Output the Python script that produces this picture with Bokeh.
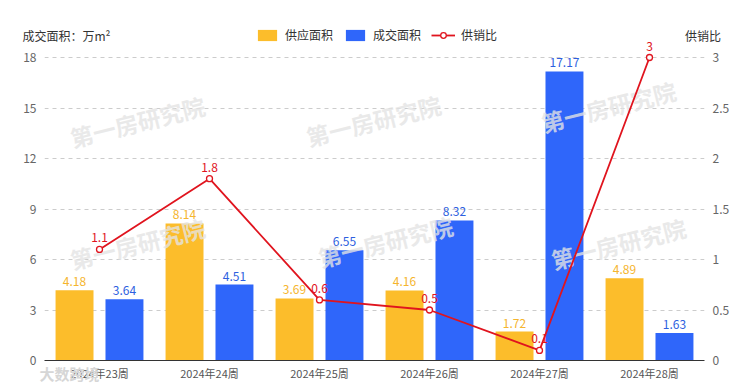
from bokeh.plotting import figure
from bokeh.models import (Range1d, LinearAxis, FixedTicker, NumeralTickFormatter,
                          ColumnDataSource, Legend, LegendItem, Label)
from bokeh.transform import dodge
from bokeh.core.properties import value
from bokeh.embed import file_html
from bokeh.resources import INLINE

weeks = ["2024年23周", "2024年24周", "2024年25周", "2024年26周", "2024年27周", "2024年28周"]
supply = [4.18, 8.14, 3.69, 4.16, 1.72, 4.89]
deal = [3.64, 4.51, 6.55, 8.32, 17.17, 1.63]
ratio = [1.1, 1.8, 0.6, 0.5, 0.1, 3]
left_ticks = [0, 3, 6, 9, 12, 15, 18]
right_ticks = [0, 0.5, 1, 1.5, 2, 2.5, 3]
left_title = "成交面积：万m²"
right_title = "供销比"
source_mark = "大数跨境"
watermark = "第一房研究院"

FONT = "Noto Sans CJK SC"
YEL = "#FCBD2B"
BLUE = "#2F66FA"
RED = "#E0141E"

# category slots: the i-th week sits in the middle of slot i
slot = [i + 0.5 for i in range(len(weeks))]
src = ColumnDataSource(dict(
    slot=slot, supply=supply, deal=deal, ratio=ratio,
    supply_t=[f"{v:g}" for v in supply],
    deal_t=[f"{v:g}" for v in deal],
    ratio_t=[f"{v:g}" for v in ratio],
))

# frame: 660 x 335 px; the 0..18 scale occupies the lower 303 px
FH, SCALE_H = 335, 303
p = figure(x_range=Range1d(0, len(weeks)),
           y_range=Range1d(0, 18 * FH / SCALE_H), frame_width=660, frame_height=FH,
           output_backend="svg", toolbar_location=None, x_axis_type=None,
           min_border_left=44, min_border_right=50, min_border_top=25, min_border_bottom=31)
p.outline_line_color = None
p.extra_y_ranges = {"r": Range1d(0, 3 * FH / SCALE_H)}
p.extra_x_ranges = {"px": Range1d(0, 660)}

def style_axis(ax, color="#666666", size="12px"):
    ax.axis_line_color = None
    ax.major_tick_line_color = None
    ax.minor_tick_line_color = None
    ax.major_tick_out = 0
    ax.major_tick_in = 0
    ax.major_label_text_color = color
    ax.major_label_text_font = FONT
    ax.major_label_text_font_size = size

p.yaxis.ticker = FixedTicker(ticks=left_ticks)
style_axis(p.yaxis[0])
p.yaxis.major_label_standoff = 8

ra = LinearAxis(y_range_name="r", ticker=FixedTicker(ticks=right_ticks),
                formatter=NumeralTickFormatter(format="0.[0]"))
style_axis(ra)
ra.major_label_standoff = 8
p.add_layout(ra, "right")

xa = LinearAxis(ticker=FixedTicker(ticks=slot),
                major_label_overrides={s: w for s, w in zip(slot, weeks)})
style_axis(xa, color="#555555", size="11px")
xa.axis_line_color = "#333333"
xa.axis_line_width = 1
xa.major_label_standoff = 4
p.add_layout(xa, "below")

# source watermark (bottom-left)
sa = LinearAxis(x_range_name="px", ticker=FixedTicker(ticks=[25]),
                major_label_overrides={25: source_mark})
style_axis(sa, color="#d6d6d6", size="15px")
sa.major_label_text_font_style = "bold"
sa.major_label_standoff = -21
p.add_layout(sa, "below")

# axis titles row (top), placed by an auxiliary pixel-range axis
ta = LinearAxis(x_range_name="px", ticker=FixedTicker(ticks=[22, 658.5]),
                major_label_overrides={22: left_title, 658.5: right_title})
style_axis(ta, color="#333333")
ta.major_label_standoff = -18
p.add_layout(ta, "above")

p.xgrid.grid_line_color = None
p.ygrid.grid_line_color = "#cccccc"
p.ygrid.grid_line_dash = "4 4"
p.ygrid.ticker = FixedTicker(ticks=left_ticks[1:])

b1 = p.vbar(x=dodge("slot", -0.227), top="supply", width=0.345,
            source=src, fill_color=YEL, line_color=None)
b2 = p.vbar(x=dodge("slot", 0.227), top="deal", width=0.345,
            source=src, fill_color=BLUE, line_color=None)
p.text(x=dodge("slot", -0.227), y="supply", text="supply_t", source=src,
       text_align="center", text_baseline="bottom", y_offset=-4,
       text_font=value(FONT), text_font_size="12px", text_color="#F5B52E")
p.text(x=dodge("slot", 0.227), y="deal", text="deal_t", source=src,
       text_align="center", text_baseline="bottom", y_offset=-4,
       text_font=value(FONT), text_font_size="12px", text_color="#2E5FE0")

# watermarks (between bars and the line)
for (wx, wy) in [(93, 239), (329, 240), (564, 254), (93, 117), (341, 119), (574, 117)]:
    p.add_layout(Label(x=wx, y=wy, x_units="screen", y_units="screen", text=watermark,
                       text_font=FONT, text_font_size="23px", text_font_style="bold",
                       text_color="#e4e4e4", text_alpha=0.8, angle=14, angle_units="deg",
                       text_align="center", text_baseline="middle"))

ln = p.line(x="slot", y="ratio", source=src, y_range_name="r", line_color=RED, line_width=1.8,
            level="overlay")
sc = p.scatter(x="slot", y="ratio", source=src, y_range_name="r", size=6,
               fill_color="white", line_color=RED, line_width=1.3, level="overlay")
p.text(x="slot", y="ratio", text="ratio_t", source=src, y_range_name="r",
       text_align="center", text_baseline="bottom", y_offset=-7, level="overlay",
       text_font=value(FONT), text_font_size="12px", text_color=RED)

legend = Legend(items=[LegendItem(label="供应面积", renderers=[b1]),
                       LegendItem(label="成交面积", renderers=[b2]),
                       LegendItem(label="供销比", renderers=[ln, sc])],
                location=(211, FH - 18), orientation="horizontal",
                glyph_width=24, glyph_height=14, label_standoff=6, spacing=10,
                padding=0, margin=0, border_line_color=None, background_fill_alpha=0,
                label_text_font=FONT, label_text_font_size="12px", label_text_color="#333333",
                label_height=14)
p.add_layout(legend, "center")

open("out.html", "w").write(file_html(p, INLINE))
